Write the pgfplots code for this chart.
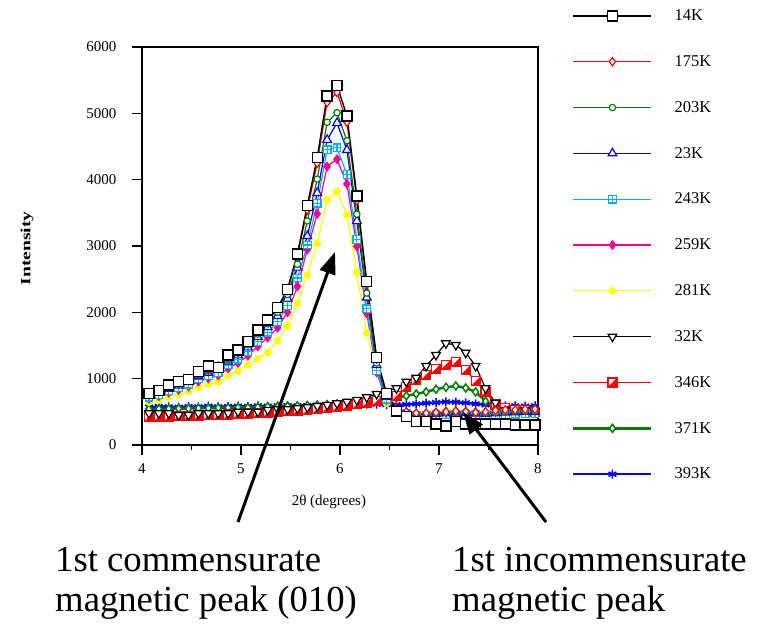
\documentclass[border=0pt]{standalone}
\usepackage{fontspec}
\setmainfont{Liberation Serif}
\usepackage{graphicx}
\usepackage{pgfplots}
\usepackage{pgfplotstable}
\pgfplotsset{compat=1.18}
\usetikzlibrary{arrows.meta}

\definecolor{cGreen}{RGB}{0,128,0}
\definecolor{cBlue}{RGB}{0,0,255}
\definecolor{cCyan}{RGB}{0,176,240}
\definecolor{cMag}{RGB}{255,0,144}
\definecolor{cYel}{RGB}{255,255,0}
\definecolor{cRed}{RGB}{255,0,0}

\pgfdeclareplotmark{sqplus}{%
  \pgfpathrectangle{\pgfqpoint{-\pgfplotmarksize}{-\pgfplotmarksize}}{\pgfqpoint{2\pgfplotmarksize}{2\pgfplotmarksize}}%
  \pgfusepathqfillstroke
  \pgfpathmoveto{\pgfqpoint{-\pgfplotmarksize}{0pt}}\pgfpathlineto{\pgfqpoint{\pgfplotmarksize}{0pt}}%
  \pgfpathmoveto{\pgfqpoint{0pt}{-\pgfplotmarksize}}\pgfpathlineto{\pgfqpoint{0pt}{\pgfplotmarksize}}%
  \pgfusepathqstroke}
\pgfdeclareplotmark{halfsq}{%
  \pgfpathrectangle{\pgfqpoint{-\pgfplotmarksize}{-\pgfplotmarksize}}{\pgfqpoint{2\pgfplotmarksize}{2\pgfplotmarksize}}%
  \pgfusepathqfillstroke
  \begin{pgfscope}\pgfsetfillcolor{cRed}%
  \pgfpathmoveto{\pgfqpoint{-\pgfplotmarksize}{-\pgfplotmarksize}}%
  \pgfpathlineto{\pgfqpoint{\pgfplotmarksize}{-\pgfplotmarksize}}%
  \pgfpathlineto{\pgfqpoint{\pgfplotmarksize}{\pgfplotmarksize}}%
  \pgfpathclose\pgfusepathqfill
  \end{pgfscope}}

\pgfplotstableread{
x T14 T175 T203 T23 T243 T259 T281 T32 T346 T371 T393
4.07 780 770 761 746 722 698 646 478 430 540 570
4.17 820 815 804 788 762 736 678 478 430 545 580
4.27 905 882 866 849 819 790 725 478 430 545 575
4.37 955 930 914 895 863 831 761 452 440 550 570
4.47 990 990 972 951 916 881 804 452 440 550 580
4.57 1105 1080 1058 1035 995 956 869 478 445 555 575
4.67 1190 1140 1116 1090 1048 1006 912 478 450 555 585
4.77 1165 1190 1164 1137 1092 1047 948 478 455 560 575
4.87 1357 1320 1289 1258 1206 1155 1042 478 460 560 580
4.97 1432 1420 1385 1351 1294 1238 1114 502 470 565 585
5.07 1558 1548 1510 1472 1409 1346 1207 502 475 565 580
5.17 1734 1718 1673 1630 1558 1487 1300 502 480 570 590
5.27 1885 1876 1826 1779 1699 1620 1392 528 490 575 585
5.37 2070 2055 1999 1946 1858 1769 1573 538 500 580 590
5.47 2347 2330 2268 2207 2104 2002 1795 538 510 585 595
5.57 2880 2854 2725 2674 2519 2390 2137 553 520 590 590
5.67 3610 3544 3378 3150 3014 2948 2564 568 530 595 595
5.77 4330 4249 4008 3800 3645 3484 3042 588 545 600 600
5.87 5263 5164 4866 4600 4449 4197 3695 603 560 610 600
5.97 5418 5316 5009 4855 4480 4308 3820 628 575 620 605
6.07 4960 4867 4587 4447 4075 3935 3470 653 595 630 610
6.17 3755 3686 3479 3375 3099 2995 2600 680 615 640 610
6.27 2463 2420 2290 2225 2052 1987 1690 720 640 655 615
6.37 1317 1297 1236 1205 1124 1093 1130 770 660 670 615
6.47 780 770 742 727 689 674 630 810 690 690 610
6.57 513 560 540 530 520 510 500 855 740 710 605
6.67 427 500 490 480 470 470 470 955 880 740 610
6.77 352 480 470 460 450 460 470 1015 980 770 620
6.87 352 480 470 460 450 470 480 1191 1060 800 630
6.97 317 490 480 470 455 480 500 1357 1150 840 640
7.07 287 500 490 480 460 500 520 1533 1210 870 650
7.17 352 510 500 490 465 505 525 1508 1256 890 645
7.27 317 500 495 485 460 500 515 1392 1131 860 635
7.37 317 490 485 475 455 490 500 1191 960 800 620
7.47 317 500 480 470 450 480 480 855 800 660 605
7.57 317 520 490 480 455 480 470 638 610 560 595
7.67 317 530 500 490 460 490 480 528 553 540 590
7.77 302 530 510 495 465 490 480 478 528 540 590
7.87 302 540 510 500 470 500 490 528 528 540 585
7.97 302 540 515 500 470 500 490 502 502 530 590
}\data

\begin{document}
\begin{tikzpicture}
\useasboundingbox (-142pt,-181pt) rectangle (621pt,445pt);
\begin{axis}[
  at={(0pt,0pt)}, anchor=south west,
  scale only axis, width=396pt, height=398pt,
  xmin=4, xmax=8, ymin=0, ymax=6000,
  xtick={4,5,6,7,8}, minor x tick num=1,
  ytick={0,1000,2000,3000,4000,5000,6000},
  tick align=outside, xtick pos=left, ytick pos=left,
  major tick length=10pt, minor tick length=5pt,
  every tick/.style={black, line width=1.2pt},
  axis line style={line width=1.5pt},
  /pgf/number format/assume math mode=true,
  /pgf/number format/1000 sep={},
  tick label style={font=\fontsize{15}{15}\selectfont},
  yticklabel shift=12pt,
  xticklabel shift=5pt,
  xlabel={2θ (degrees)},
  ylabel={\scalebox{1.4}[1]{\textbf{Intensity}}},
  xlabel style={font=\fontsize{15}{15}\selectfont, at={(axis description cs:0.472,-0.126)}, anchor=north, inner sep=0pt},
  ylabel style={font=\fontsize{14}{14}\selectfont, at={(axis description cs:-0.2904,0.494)}, anchor=center, inner sep=0pt},
  reverse legend,
  legend cell align=left,
  legend style={at={(axis description cs:1.0859,1.0993)}, anchor=north west, draw=none, fill=none, inner sep=0pt,
    row sep=29.4pt, column sep=0pt, font=\fontsize{16.5}{16.5}\selectfont,
    /tikz/every even column/.append style={column sep=0pt},
    /tikz/every odd column/.append style={column sep=20pt}},
  legend image code/.code={\draw[mark repeat=2,mark phase=2] plot coordinates {(0pt,0pt) (39pt,0pt) (78pt,0pt)};},
]
\addplot[cBlue, line width=2.5pt, mark=asterisk, mark size=4.5pt, mark options={line width=1.5pt}] table[x=x,y=T393]{\data};
\addlegendentry{393K}
\addplot[cGreen, line width=2.5pt, mark=diamond*, mark size=4pt, mark options={line width=1.5pt, fill=white}] table[x=x,y=T371]{\data};
\addlegendentry{371K}
\addplot[cRed, line width=1.2pt, mark=halfsq, mark size=4.5pt, mark options={fill=white}] table[x=x,y=T346]{\data};
\addlegendentry{346K}
\addplot[black, line width=1.2pt, mark=triangle*, mark size=5pt, mark options={fill=white, rotate=180}] table[x=x,y=T32]{\data};
\addlegendentry{32K}
\addplot[cYel, line width=1.2pt, mark=*, mark size=3.2pt] table[x=x,y=T281]{\data};
\addlegendentry{281K}
\addplot[cMag, line width=1.2pt, mark=diamond*, mark size=4.2pt] table[x=x,y=T259]{\data};
\addlegendentry{259K}
\addplot[cCyan, line width=1.2pt, mark=sqplus, mark size=3.8pt, mark options={fill=white}] table[x=x,y=T243]{\data};
\addlegendentry{243K}
\addplot[cBlue, line width=1.2pt, mark=triangle*, mark size=5pt, mark options={fill=white}] table[x=x,y=T23]{\data};
\addlegendentry{23K}
\addplot[cGreen, line width=1.2pt, mark=*, mark size=3.2pt, mark options={fill=white}] table[x=x,y=T203]{\data};
\addlegendentry{203K}
\addplot[cRed, line width=1.2pt, mark=diamond*, mark size=4.2pt, mark options={fill=white}] table[x=x,y=T175]{\data};
\addlegendentry{175K}
\addplot[black, line width=1.4pt, mark=square*, mark size=5pt, mark options={fill=white}] table[x=x,y=T14]{\data};
\addlegendentry{14K}
\end{axis}
\draw[line width=3pt, -{Triangle[length=22pt, width=16pt]}] (96pt,-77pt) -- (193pt,193pt);
\draw[line width=3pt, -{Triangle[length=22pt, width=16pt]}] (404pt,-77pt) -- (321pt,33pt);
\begin{scope}[every node/.style={anchor=base west, inner sep=0pt, font=\fontsize{36.7}{40}\selectfont}]
\node at (-87pt,-127pt) {1st commensurate};
\node at (-87pt,-166pt) {magnetic peak (010)};
\node at (310pt,-127pt) {1st incommensurate};
\node at (310pt,-166pt) {magnetic peak};
\end{scope}
\end{tikzpicture}
\end{document}
